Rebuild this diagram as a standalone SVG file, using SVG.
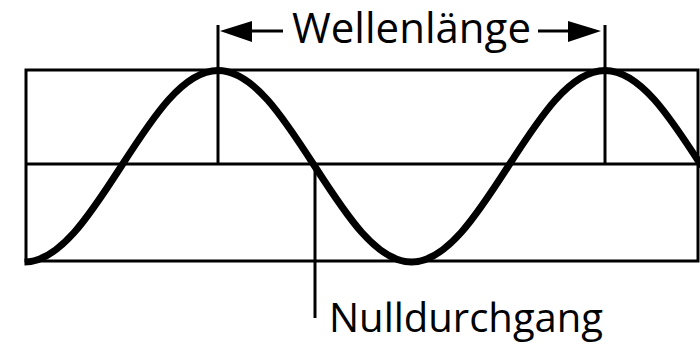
<svg xmlns="http://www.w3.org/2000/svg" width="700" height="343" viewBox="0 0 700 343">
<style>
.ln{stroke:#000;stroke-width:3;fill:none}
.wave{stroke:#000;stroke-width:7;fill:none}
.lbl{font-family:"Open Sans","Noto Sans",sans-serif;font-size:42px;fill:#000}
</style>
<rect width="700" height="343" fill="#fff"/>
<g id="frame">
<rect class="ln" x="26" y="70" width="672" height="191"/>
<line class="ln" x1="26" y1="164" x2="698" y2="164"/>
</g>
<g id="wave">
<path class="wave" d="M24.5,262 C59.36,262 89.7,215.3 121.25,166.25 C152.8,117.2 183.14,70.5 218,70.5 C252.86,70.5 283.2,117.2 314.75,166.25 C346.3,215.3 376.64,262 411.5,262 C446.36,262 476.7,215.3 508.25,166.25 C539.8,117.2 570.14,70.5 605,70.5 C639.86,70.5 670.2,117.2 701.75,166.25"/>
</g>
<g id="connectors">
<line class="ln" x1="218" y1="25" x2="218" y2="164"/>
<line class="ln" x1="605" y1="25" x2="605" y2="164"/>
<line class="ln" x1="315" y1="164" x2="315" y2="318"/>
<line class="ln" x1="283" y1="31" x2="250" y2="31"/>
<polygon points="220,31 252,21 252,42" fill="#000"/>
<line class="ln" x1="538" y1="31" x2="570" y2="31"/>
<polygon points="601,31 568,21 568,42" fill="#000"/>
</g>
<g id="label-wellenlaenge">
<text class="lbl" x="292" y="43">Wellenlänge</text>
</g>
<g id="label-nulldurchgang">
<text class="lbl" x="329" y="332" style="font-size:40px">Nulldurchgang</text>
</g>
</svg>
